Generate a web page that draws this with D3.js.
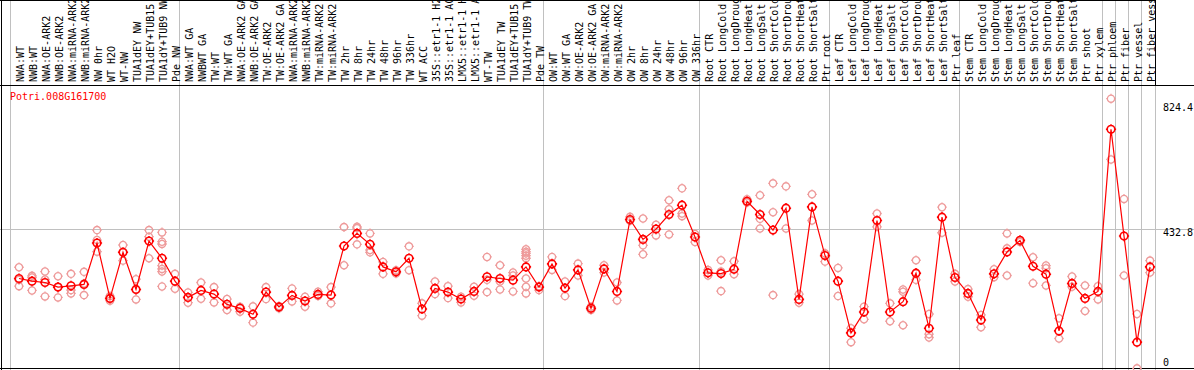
<!DOCTYPE html>
<html><head><meta charset="utf-8">
<script src="https://cdn.jsdelivr.net/npm/d3@7"></script>
<style>
body{margin:0;background:#fff;}
svg{display:block;}
text{font-family:"DejaVu Sans Mono",monospace;font-size:10px;}
</style>
</head><body>
<svg id="chart" width="1194" height="370"></svg>
<script>
const categories = [
 "NWA:WT","NWB:WT","NWA:OE-ARK2","NWB:OE-ARK2","NWA:miRNA-ARK2","NWB:miRNA-ARK2","NW 0hr","WT H2O","WT-NW","TUA1dEY NW","TUA1dEY+TUB15 NW","TUA1dY+TUB9 NW","Pde NW",
 "NWA:WT GA","NWBWT GA","TW:WT","TW:WT GA","NWA:OE-ARK2 GA","NWB:OE-ARK2 GA","TW:OE-ARK2","TW:OE-ARK2 GA","NWA:miRNA-ARK2 GA","NWB:miRNA-ARK2 GA","TW:miRNA-ARK2","TW:miRNA-ARK2 GA",
 "TW 2hr","TW 8hr","TW 24hr","TW 48hr","TW 96hr","TW 336hr","WT ACC","35S::etr1-1 H2O","35S::etr1-1 ACC","LMX5::etr1-1 H2O","LMX5::etr1-1 ACC","WT-TW","TUA1dEY TW","TUA1dEY+TUB15 TW","TUA1dY+TUB9 TW","Pde TW",
 "OW:WT","OW:WT GA","OW:OE-ARK2","OW:OE-ARK2 GA","OW:miRNA-ARK2","OW:miRNA-ARK2 GA","OW 2hr","OW 8hr","OW 24hr","OW 48hr","OW 96hr","OW 336hr",
 "Root CTR","Root LongCold","Root LongDrought","Root LongHeat","Root LongSalt","Root ShortCold","Root ShortDrought","Root ShortHeat","Root ShortSalt","Ptr root",
 "Leaf CTR","Leaf LongCold","Leaf LongDrought","Leaf LongHeat","Leaf LongSalt","Leaf ShortCold","Leaf ShortDrought","Leaf ShortHeat","Leaf ShortSalt","Ptr leaf",
 "Stem CTR","Stem LongCold","Stem LongDrought","Stem LongHeat","Stem LongSalt","Stem ShortCold","Stem ShortDrought","Stem ShortHeat","Stem ShortSalt","Ptr shoot","Ptr xylem",
 "Ptr phloem","Ptr fiber","Ptr vessel","Ptr fiber vessel"
];

const means = [
 282,274,270,256,260,264,389,222,361,249,395,343,274,
 225,246,235,204,192,174,241,196,231,214,234,232,
 380,418,385,317,302,343,190,252,241,220,243,287,282,277,317,256,
 326,253,308,192,311,243,460,400,431,475,503,407,
 299,297,310,515,475,428,494,219,498,351,
 274,118,181,457,181,212,298,132,467,285,
 237,157,296,362,397,319,295,124,267,222,243,
 732,410,90,317
];

const replicates = [
 [316,278,259],[290,285,246],[303,279,228],[289,256,225],[296,247,237],[302,267,232],[428,398,363],[229,222,215],[383,361,336],[280,249,219],[428,408,343],[421,393,386,321,311,303,258],[296,251],
 [240,209],[270,221],[256,210],[220,187],[197,182],[198,149],[256,220],[199,192],[252,213],[227,197],[242,229],[256,207],
 [437,322],[438,434,385],[418,368,361],[332,296],[307,297],[379,307],[207,170],[273,235],[259,223],[227,210],[257,230],[347,278,241],[322,273,249],[300,291,243],[370,363,358,351,343,282,257,237],[259,247],
 [347,308],[273,229],[327,291],[197,187],[322,300],[270,216],[468,456],[463,382,355],[444,412],[518,491,415],[554,478,470],[416,392],
 [308,291],[337,303,244],[334,295],[521,511],[533,462,433],[569,482,232],[560,433],[235,209],[536,457],[358,333],
 [314,229],[132,90],[197,159],[478,438],[207,153],[249,242,141],[337,298,278],[175,114,104],[497,420],[296,273],
 [250,227],[172,135],[310,286],[418,373,291],[397,392],[346,268],[321,313,261],[162,101],[288,257],[261,184],[259,219],
 [824.4,641],[522,291],[175,11],[336,300]
];

const tickValues = [824.4, 432.8, 0];
const tickLabels = ["824.4", "432.8", "0"];
const gridValues = [432.8];
const groupStarts = [0, 13, 41, 53, 63, 73, 84, 85, 86, 87];
const geneName = "Potri.008G161700";
const yMax = 865.6;

const W = 1194, H = 370;
const plotLeft = 11, plotRight = 1155, headerBottom = 85.5;
const svg = d3.select("#chart");

const x = d3.scaleBand().domain(d3.range(categories.length)).range([plotLeft, plotRight]).padding(0);
const cx = i => x(i) + 8;
const y = d3.scaleLinear().domain([0, yMax]).range([372, 85]);

// horizontal grid
svg.append("g").selectAll("line").data(gridValues).join("line")
  .attr("x1", 0).attr("x2", W)
  .attr("y1", d => Math.round(y(d)) + 0.5).attr("y2", d => Math.round(y(d)) + 0.5)
  .attr("stroke", "#c0c0c0").attr("stroke-width", 1).attr("shape-rendering", "crispEdges");

// vertical group separators
svg.append("g").selectAll("line").data(groupStarts).join("line")
  .attr("x1", d => Math.round(x(d)) - 0.5).attr("x2", d => Math.round(x(d)) - 0.5)
  .attr("y1", 0).attr("y2", H)
  .attr("stroke", "#c0c0c0").attr("stroke-width", 1).attr("shape-rendering", "crispEdges");
svg.append("line")
  .attr("x1", plotRight + 0.5).attr("x2", plotRight + 0.5).attr("y1", headerBottom).attr("y2", H)
  .attr("stroke", "#c0c0c0").attr("shape-rendering", "crispEdges");

// borders
const border = svg.append("g").attr("stroke", "#000").attr("stroke-width", 1).attr("shape-rendering", "crispEdges");
border.append("line").attr("x1", 0).attr("x2", plotRight).attr("y1", 0.5).attr("y2", 0.5);
border.append("line").attr("x1", 0).attr("x2", W).attr("y1", headerBottom).attr("y2", headerBottom);
border.append("line").attr("x1", 0).attr("x2", W).attr("y1", 368.5).attr("y2", 368.5);
border.append("line").attr("x1", 1.5).attr("x2", 1.5).attr("y1", 0).attr("y2", H);
border.append("line").attr("x1", plotRight + 0.5).attr("x2", plotRight + 0.5).attr("y1", 0).attr("y2", headerBottom);

// header labels
svg.append("g").selectAll("text").data(categories).join("text")
  .attr("transform", (d, i) => `translate(${cx(i) + 5},82) rotate(-90)`)
  .attr("fill", "#000")
  .text(d => d);

// gene name
svg.append("text").attr("x", 10).attr("y", 100).attr("fill", "#ff0000").text(geneName);

// right axis labels
svg.append("g").selectAll("text").data(tickValues).join("text")
  .attr("x", 1163)
  .attr("y", d => Math.min(Math.max(y(d) + 7.5, 111), 366))
  .attr("fill", "#000")
  .text((d, i) => tickLabels[i]);

// marker path: circle with small ticks
function marker(r, t) {
  return `M${-r},0A${r},${r} 0 1,0 ${r},0A${r},${r} 0 1,0 ${-r},0` +
    `M0,${-r}V${-r - t}M0,${r}V${r + t}M${-r},0H${-r - t}M${r},0H${r + t}`;
}

// replicates
const repPts = [];
replicates.forEach((arr, i) => arr.forEach(v => repPts.push({i, v})));
svg.append("g").selectAll("path").data(repPts).join("path")
  .attr("transform", d => `translate(${cx(d.i)},${y(d.v)})`)
  .attr("d", marker(3.6, 1.2))
  .attr("fill", "none").attr("stroke", "#ee9a9a").attr("stroke-width", 1.3);

// mean line
const line = d3.line().x((d, i) => cx(i)).y(d => y(d));
svg.append("path").datum(means).attr("d", line)
  .attr("fill", "none").attr("stroke", "#ff0000").attr("stroke-width", 1.2);

// mean markers
svg.append("g").selectAll("path").data(means).join("path")
  .attr("transform", (d, i) => `translate(${cx(i)},${y(d)})`)
  .attr("d", marker(3.8, 1.3))
  .attr("fill", "none").attr("stroke", "#ff0000").attr("stroke-width", 1.6);
</script>
</body></html>
